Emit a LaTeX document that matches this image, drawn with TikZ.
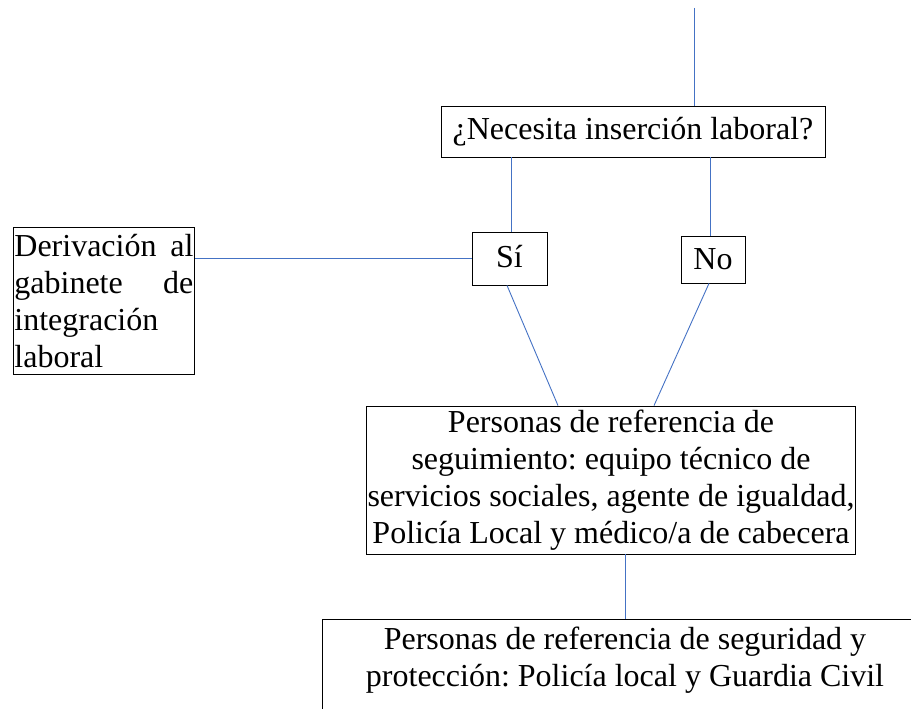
\documentclass[tikz,border=0pt]{standalone}
\usepackage{fontspec}
\setmainfont{Liberation Serif}
\usetikzlibrary{positioning,calc}
\definecolor{linkblue}{RGB}{68,114,196}
\tikzset{
    box/.style={draw=black, line width=0.8pt, rectangle, inner sep=1pt, font=\fontsize{32}{37}\selectfont\frenchspacing},
    link/.style={draw=linkblue, line width=0.9pt}
}
\begin{document}
\begin{tikzpicture}[x=1pt, y=-1pt]
    \clip (0,0) rectangle (911,709);
    \useasboundingbox (0,0) rectangle (911,709);
    \coordinate (top) at (694, 8);
    \node[box, minimum width=384pt, minimum height=51pt] (q) at (633, 131.5) {¿Necesita inserción laboral?};
    \node[box, minimum width=75pt, minimum height=53pt] (si) at (509.5, 258.5) {\raisebox{5pt}{Sí}};
    \node[box, minimum width=64pt, minimum height=47pt] (no) at (713, 259.5) {No};
    \node[box, anchor=north west, text width=179pt, minimum height=147pt, align=left] (deriv) at (13, 227)
        {Derivación\hfill al\\gabinete\hfill de\\integración\\laboral};
    \node[box, minimum width=488pt, minimum height=148pt, align=center] (seg) at (611, 480)
        {Personas de referencia de\\seguimiento: equipo técnico de\\servicios sociales, agente de igualdad,\\Policía Local y médico/a de cabecera};
    \node[box, anchor=north, minimum width=606pt, inner ysep=8pt, text depth=90pt, align=center] (prot) at (625, 619)
        {Personas de referencia de seguridad y\\protección: Policía local y Guardia Civil};
    % connectors
    \draw[link] (top) -- (top |- q.north);
    \draw[link] ([xshift=1.5pt]si.north |- q.south) -- ([xshift=1.5pt]si.north);
    \draw[link] ([xshift=-3pt]no.north |- q.south) -- ([xshift=-3pt]no.north);
    \draw[link] (si.west) -- (si.west -| deriv.east);
    \draw[link] ([xshift=-2.5pt]si.south) -- ([xshift=-53pt]seg.north);
    \draw[link] ([xshift=-4pt]no.south) -- ([xshift=43pt]seg.north);
    \draw[link] (prot.north) -- (prot.north |- seg.south);
\end{tikzpicture}
\end{document}
